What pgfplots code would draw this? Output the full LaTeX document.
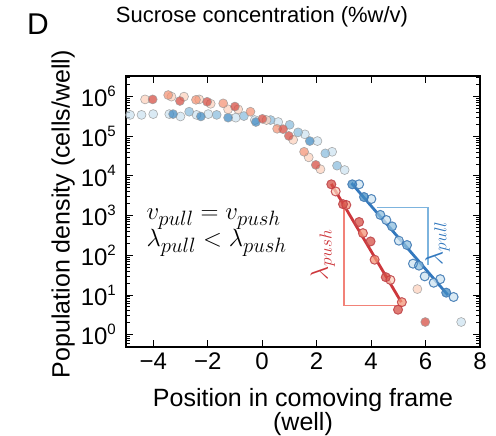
\documentclass[border=0pt]{standalone}
\usepackage{fontspec}
\setmainfont{Liberation Sans}
\usepackage{pgfplots}
\pgfplotsset{compat=1.18}
\definecolor{redD}{RGB}{214,80,70}
\definecolor{redM}{RGB}{244,150,120}
\definecolor{redL}{RGB}{252,210,190}
\definecolor{blueD}{RGB}{67,140,195}
\definecolor{blueM}{RGB}{140,190,222}
\definecolor{blueL}{RGB}{205,227,240}
\definecolor{fitR}{RGB}{205,55,60}
\definecolor{fitB}{RGB}{50,120,190}
\definecolor{triR}{RGB}{242,130,120}
\definecolor{triB}{RGB}{125,180,222}
\newcommand\pw[1]{\raisebox{0.42em}{\fontsize{15}{15}\selectfont #1}}
\pgfplotsset{
  dot/.style={only marks, mark=*, mark size=4.5pt,
    mark options={fill=#1, fill opacity=0.75, draw=black!40, draw opacity=0.8, line width=0.6pt}},
  ring/.style={only marks, mark=o, mark size=4.5pt,
    mark options={draw=#1, draw opacity=0.75, line width=1pt}},
}
\begin{document}
\begin{tikzpicture}
\path[use as bounding box] (-126pt,-89pt) rectangle (370pt,347pt);
\begin{axis}[
  at={(0pt,0pt)}, anchor=south west,
  scale only axis, width=354pt, height=271pt,
  xmin=-5, xmax=8, ymin=-0.31, ymax=6.52,
  axis line style={line width=2.5pt},
  tick style={black, line width=1pt},
  major tick length=7pt, minor tick length=4pt,
  tick align=inside,
  xtick={-4,-2,0,2,4,6,8},
  xticklabels={−4,−2,0,2,4,6,8},
  ytick={0,1,2,3,4,5,6},
  yticklabels={10\pw{0},10\pw{1},10\pw{2},10\pw{3},10\pw{4},10\pw{5},10\pw{6}},
  minor ytick={-0.301,-0.222,-0.155,-0.097,-0.046,
    0.301,0.477,0.602,0.699,0.778,0.845,0.903,0.954,
    1.301,1.477,1.602,1.699,1.778,1.845,1.903,1.954,
    2.301,2.477,2.602,2.699,2.778,2.845,2.903,2.954,
    3.301,3.477,3.602,3.699,3.778,3.845,3.903,3.954,
    4.301,4.477,4.602,4.699,4.778,4.845,4.903,4.954,
    5.301,5.477,5.602,5.699,5.778,5.845,5.903,5.954,
    6.301,6.477},
  ticklabel style={font=\fontsize{24}{24}\selectfont, inner sep=0pt},
  xticklabel style={yshift=-6pt},
  yticklabel style={xshift=-10pt},
  xlabel={Position in comoving frame\\(well)},
  xlabel style={at={(axis description cs:0.5,-0.151)}, anchor=north, inner sep=0pt,
    align=center, font=\fontsize{25}{24}\selectfont},
  ylabel={Population density (cells/well)},
  ylabel style={at={(axis description cs:-0.144,0.49)}, anchor=south, inner sep=0pt,
    font=\fontsize{25}{27}\selectfont},
  clip=false,
]
% blue series
\addplot[dot=blueL] coordinates {
(-4.85,5.54) (-4.43,5.54) (-4.00,5.56) (-3.41,5.56) (-3.00,5.50) (-2.41,5.54)
(-1.98,5.56) (-0.97,5.47) (-0.27,5.41) (0.59,5.36) (1.57,5.05) (2.03,4.88)
(2.57,4.61) (3.03,4.15) (3.56,3.79) (4.01,3.42) (4.56,2.89) (5.02,2.37)
(5.54,1.79) (5.97,1.47) (6.30,1.31) (6.54,1.40) (7.03,0.95) (7.31,0.32)};
\addplot[dot=blueM] coordinates {
(-2.68,5.62) (-1.67,5.54) (-0.67,5.51) (0.31,5.41) (1.01,5.29) (1.32,5.10)
(2.32,4.57) (2.75,4.26) (4.34,3.02) (4.77,2.73) (5.32,2.26) (5.76,1.74)};
\addplot[dot=blueD] coordinates {
(-3.27,5.56) (-2.25,5.50) (-1.25,5.47) (-0.23,5.36) (1.75,4.88) (3.31,3.79)
(3.74,3.47) (6.76,1.06)};
% red series
\addplot[dot=redL] coordinates {
(-4.30,5.93) (-3.33,6.00) (-2.87,6.00) (-2.31,5.93) (-1.89,5.82) (-1.25,5.68)
(-0.88,5.68) (0.16,5.41) (1.14,4.91) (1.71,4.47) (2.14,4.17) (2.70,3.61)
(4.71,1.38) (5.70,1.15)};
\addplot[dot=redM] coordinates {
(-3.45,6.04) (-2.43,5.92) (-1.43,5.83) (-0.43,5.62) (0.55,5.19) (1.54,4.61)
(3.09,3.27) (3.70,2.56) (4.13,1.89) (5.13,0.82)};
\addplot[dot=redD] coordinates {
(-4.02,5.93) (-3.02,5.89) (-2.02,5.87) (-1.00,5.75) (0.01,5.44) (0.77,5.18)
(0.98,5.01) (1.97,4.28) (2.54,3.79) (2.97,3.29) (3.56,2.84) (3.98,2.35)
(4.54,1.45) (4.99,0.63) (5.99,0.32)};
% triangles
\addplot[triR, line width=1.5pt, no marks] coordinates {(3.01,3.29) (3.01,0.74) (5.13,0.74)};
\addplot[triB, line width=1.5pt, no marks] coordinates {(4.20,3.20) (6.09,3.20) (6.09,1.76)};
% fit rings
\addplot[ring=fitR] coordinates {
(2.54,3.79) (2.70,3.61) (2.97,3.29) (3.09,3.27) (3.56,2.84) (3.70,2.56)
(3.98,2.35) (4.13,1.89) (4.54,1.45) (4.71,1.38) (5.13,0.82) (4.99,0.63)};
\addplot[ring=fitB] coordinates {
(3.31,3.79) (3.56,3.79) (3.74,3.47) (4.01,3.42) (4.34,3.02) (4.56,2.89)
(4.77,2.73) (5.02,2.37) (5.32,2.26) (5.54,1.79) (5.76,1.74) (5.97,1.47)
(6.30,1.31) (6.54,1.40) (6.76,1.06) (7.03,0.95)};
% fits
\addplot[fitR, line width=2.8pt, no marks] coordinates {(2.54,3.80) (5.11,0.82)};
\addplot[fitB, line width=2.8pt, no marks] coordinates {(3.28,3.82) (6.82,1.00)};
% annotations
\node[anchor=base west, inner sep=0pt, font=\fontsize{28}{28}\selectfont]
  at (axis cs:-4.25,2.894) {$v_{pull} = v_{push}$};
\node[anchor=base west, inner sep=0pt, font=\fontsize{28}{28}\selectfont]
  at (axis cs:-4.25,2.222) {$\lambda_{pull} < \lambda_{push}$};
\node[rotate=90, inner sep=0pt, text=fitR, font=\fontsize{27}{27}\selectfont]
  at (axis cs:2.23,2.01) {$\lambda_{push}$};
\node[rotate=90, inner sep=0pt, text=fitB, font=\fontsize{27}{27}\selectfont]
  at (axis cs:6.44,2.30) {$\lambda_{pull}$};
\end{axis}
\node[inner sep=0pt, font=\fontsize{30}{30}\selectfont] at (-88pt,323pt) {D};
\node[inner sep=0pt, font=\fontsize{22}{22}\selectfont] at (136pt,330pt) {Sucrose concentration (\%w/v)};
\end{tikzpicture}
\end{document}
